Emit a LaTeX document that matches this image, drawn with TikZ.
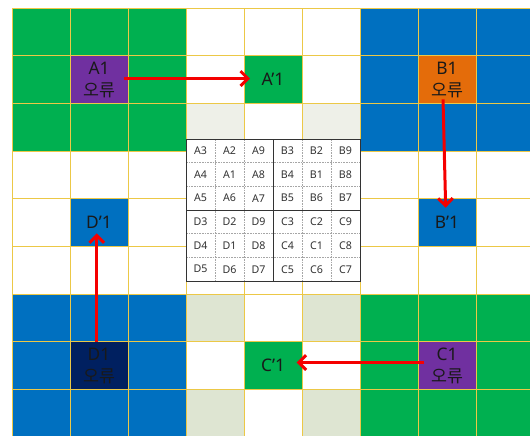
\documentclass[tikz,border=0pt]{standalone}
\usepackage{fontspec}
\setmainfont{Noto Sans}
\newfontfamily\kr{Noto Sans CJK KR}
\usetikzlibrary{arrows.meta}
\definecolor{okgreen}{RGB}{0,176,80}
\definecolor{okblue}{RGB}{0,112,192}
\definecolor{errpurple}{RGB}{112,48,160}
\definecolor{errorange}{RGB}{228,108,10}
\definecolor{errnavy}{RGB}{0,32,96}
\definecolor{gridgold}{RGB}{236,200,70}
\definecolor{arrowred}{RGB}{245,0,0}
\colorlet{cellG}{okgreen}
\colorlet{cellB}{okblue}
\colorlet{cellW}{white}
\definecolor{cellP}{RGB}{238,240,232}
\definecolor{cellS}{RGB}{222,229,210}

\begin{document}
\begin{tikzpicture}[x=0.75pt, y=-0.75pt,
  cell/.style={draw=gridgold, line width=0.75pt, minimum width=43.5pt, minimum height=35.75pt, inner sep=0pt, outer sep=0pt},
  errcell/.style={cell, align=center, font=\fontsize{13}{16.5}\selectfont, text=black!90},
  fixcell/.style={cell, font=\fontsize{13}{15}\selectfont, text=black!90},
  tcell/.style={fill=white, minimum width=21.75pt, minimum height=17.75pt, inner sep=0pt, outer sep=0pt, font=\fontsize{8}{9.5}\selectfont, text=black!80},
  tdash/.style={draw=gray!70, dash pattern=on 1.2pt off 0.8pt, line width=0.6pt},
  tsolid/.style={draw=black!80, line width=0.75pt},
  errarrow/.style={draw=arrowred, line width=2.25pt, -{Straight Barb[length=5.5pt, width=11pt]}}
]
  \fill[white] (0,0) rectangle (530,435);
  \useasboundingbox (0,0) rectangle (530,435);
  \clip (0,0) rectangle (530,435);

  % 9x9 colour grid
  \foreach \rowcols [count=\j] in {
      {G,G,G,W,W,W,B,B,B}, {G,G,G,W,W,W,B,B,B}, {G,G,G,P,W,P,B,B,B},
      {W,W,W,W,W,W,W,W,W}, {W,W,W,W,W,W,W,W,W}, {W,W,W,W,W,W,W,W,W},
      {B,B,B,S,W,S,G,G,G}, {B,B,B,W,W,W,G,G,G}, {B,B,B,S,W,S,G,G,G}}
    \foreach \c [count=\i] in \rowcols
      \node[cell, fill=cell\c] (g-\i-\j) at (58*\i-17, 47.67*\j-15.83) {};

  % error cells and their targets
  \node[errcell, fill=errpurple] (A1) at (g-2-2) {A1\\{\kr 오류}};
  \node[fixcell, fill=okgreen] (Ap1) at (g-5-2) {A’1};
  \node[errcell, fill=errorange] (B1) at (g-8-2) {B1\\{\kr 오류}};
  \node[fixcell, fill=okblue] (Bp1) at (g-8-5) {B’1};
  \node[errcell, fill=errpurple] (C1) at (g-8-8) {C1\\{\kr 오류}};
  \node[fixcell, fill=okgreen] (Cp1) at (g-5-8) {C’1};
  \node[errcell, fill=errnavy] (D1) at (g-2-8) {D1\\{\kr 오류}};
  \node[fixcell, fill=okblue] (Dp1) at (g-2-5) {D’1};

  % centre table
  \foreach \row [count=\j] in {
      {A3,A2,A9,B3,B2,B9}, {A4,A1,A8,B4,B1,B8}, {A5,A6,A7,B5,B6,B7},
      {D3,D2,D9,C3,C2,C9}, {D4,D1,D8,C4,C1,C8}, {D5,D6,D7,C5,C6,C7}}
    \foreach \lab [count=\i] in \row
      \node[tcell] (t-\i-\j) at (171.5+29*\i, 127.17+23.67*\j) {\lab};
  \foreach \k in {2,3,5,6} {
    \draw[tdash] (t-\k-1.north west) -- (t-\k-6.south west);
    \draw[tdash] (t-1-\k.north west) -- (t-6-\k.north east);
  }
  \draw[tsolid] (t-1-1.north west) rectangle (t-6-6.south east);
  \draw[tsolid] (t-4-1.north west) -- (t-4-6.south west);
  \draw[tsolid] (t-1-4.north west) -- (t-6-4.north east);

  % arrows
  \draw[errarrow] ([xshift=-3pt, yshift=0.75pt]A1.east) -- ([xshift=4.5pt, yshift=0.75pt]Ap1.west);
  \draw[errarrow] ([xshift=-3pt, yshift=3pt]B1.south) -- ([xshift=-1pt, yshift=-6.75pt]Bp1.north);
  \draw[errarrow] ([xshift=4.5pt, yshift=2.25pt]C1.west) -- ([xshift=-4pt, yshift=2.25pt]Cp1.east);
  \draw[errarrow] ([xshift=-1.75pt]D1.north) -- ([xshift=-1.75pt, yshift=9.75pt]Dp1.south);
\end{tikzpicture}
\end{document}
